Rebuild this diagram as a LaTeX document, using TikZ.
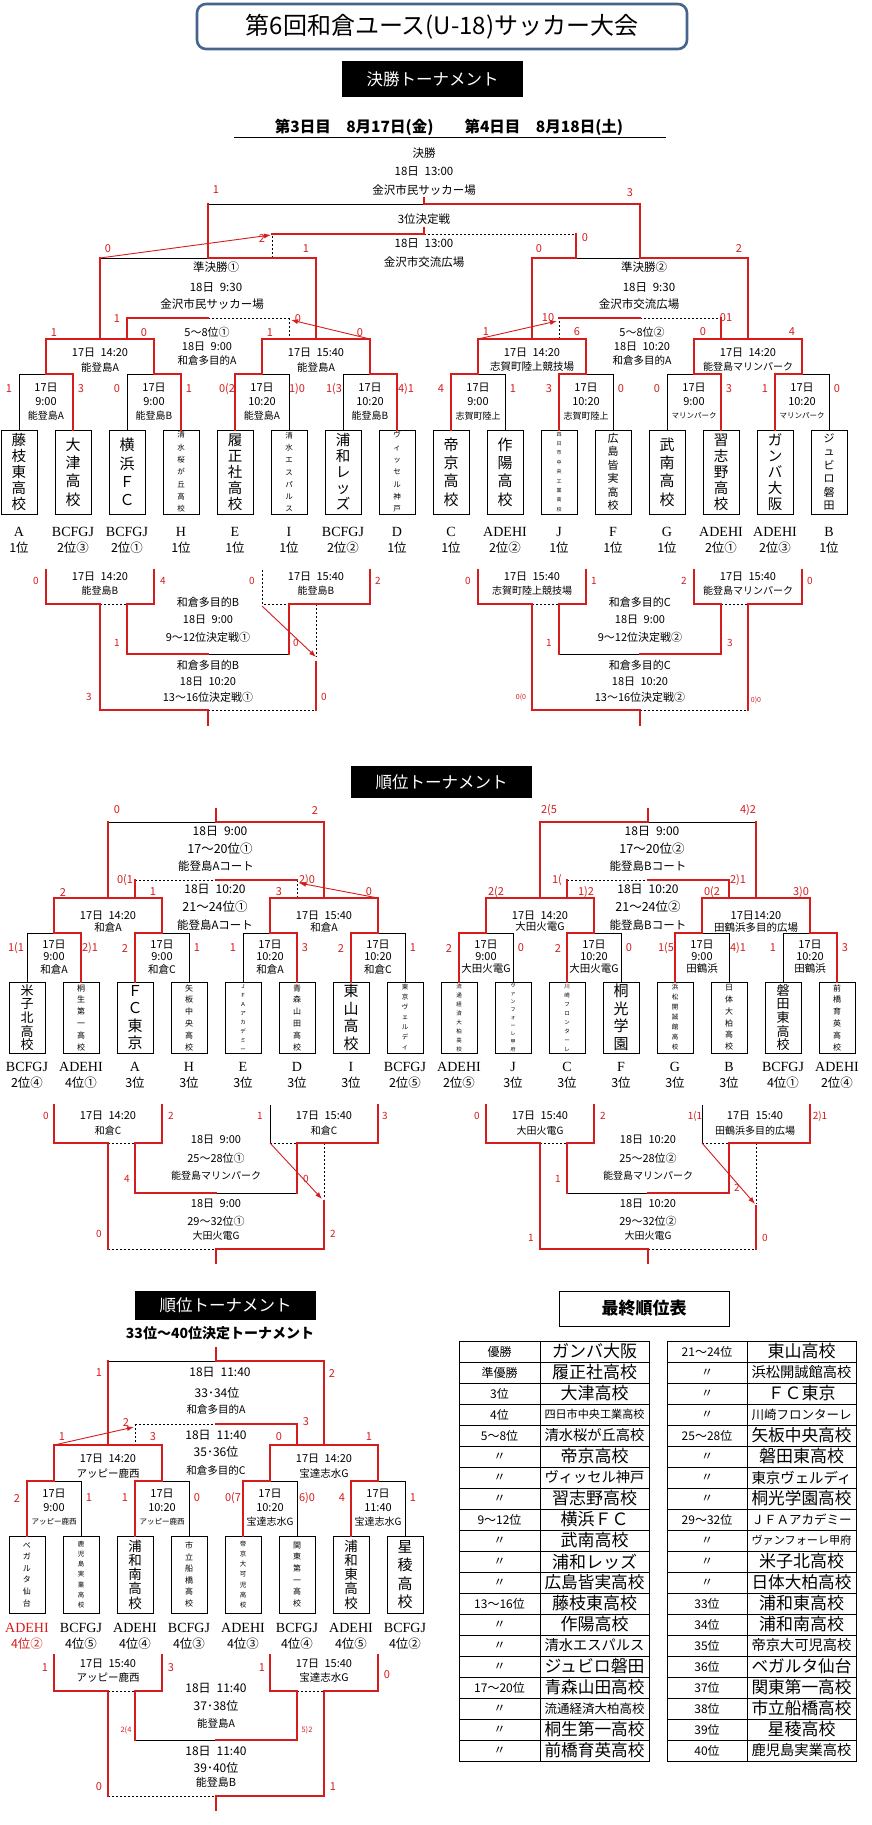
\documentclass[tikz,border=0pt]{standalone}
\usepackage{fontspec}
\usepackage{graphicx}
\setmainfont{Noto Sans CJK JP}
\newfontfamily\lat{Liberation Serif}
\usetikzlibrary{arrows.meta}
\definecolor{rd}{RGB}{214,28,28}
\definecolor{tb}{RGB}{70,100,142}
\makeatletter
\def\vt#1{\vt@a#1\vt@end}
\def\vt@end{}
\def\vt@a#1#2{#1\ifx\vt@end#2\expandafter\@gobble\else\expandafter\@firstofone\fi{\\\vt@a#2}}
\makeatother
\newcommand\fs[1]{\fontsize{#1}{#1}\selectfont}
\newcounter{nn}
\newcommand\Tx[4][]{\stepcounter{nn}\node[tx,#1] (n\arabic{nn}) at (#2,#3) {#4};}
\newcommand\Sc[4][]{\stepcounter{nn}\node[sc,#1] (n\arabic{nn}) at (#2,#3) {#4};}
\newcommand\Tb[5]{\stepcounter{nn}\node[draw,line width=0.8pt,minimum width=36pt,minimum height=#3pt,inner sep=0pt,align=center,#4] (n\arabic{nn}) at (#1,#2) {\vt{#5}};}
\newcommand\Lb[5][black]{\Tx[font=\lat\fs{14},text=#1]{#2}{#3}{#4}\Tx[font=\fs{12.5},text=#1]{#2}{#3+16}{#5}}
\newcommand\cupL[4]{\draw[K] (#1+54,#3) -- (#1+54,#2) -- (#1+27,#2); \draw[W] (#1,#3) -- (#1,#2) -- (#1+27,#2) -- (#1+27,#4);}
\newcommand\cupR[4]{\draw[K] (#1,#3) -- (#1,#2) -- (#1+27,#2); \draw[W] (#1+54,#3) -- (#1+54,#2) -- (#1+27,#2) -- (#1+27,#4);}
\newcommand\cupT[6]{\Tx{#1}{#2}{17日}\Tx{#1}{#2+#3}{#4}\Tx[font=\fs{#6}]{#1}{#2+2*#3}{#5}}
\newcommand\fitn[1]{\sbox0{\fs{17}#1}\ifdim\wd0>100pt\resizebox{100pt}{!}{\fs{17}#1}\else\usebox0\fi}
\newcommand\Rw[5]{\Tx[font=\fs{12}]{499.5}{1351.5+21*#1}{#2}\Tx{594.5}{1351.5+21*#1}{\fitn{#3}}\Tx[font=\fs{12}]{707}{1351.5+21*#1}{#4}\Tx{801.5}{1351.5+21*#1}{\fitn{#5}}}
\tikzset{
 W/.style={draw=rd,line width=2.3pt,line cap=rect,line join=miter},
 K/.style={draw=black,line width=0.8pt},
 D/.style={draw=black,line width=0.8pt,dash pattern=on 2pt off 2pt},
 AR/.style={draw=rd,line width=0.9pt,-{Latex[length=7pt,width=5pt]}},
 tx/.style={inner sep=0pt,font=\fs{11}},
 sc/.style={inner sep=0pt,text=rd,font=\fs{11}},
 s1L5/.style={font=\fontsize{14.5}{16}\selectfont},
 s1L4/.style={font=\fontsize{15}{18.3}\selectfont},
 s1M6/.style={font=\fontsize{11}{13.5}\selectfont},
 s1T7/.style={font=\fontsize{7.5}{12.3}\selectfont},
 s1TT/.style={font=\fontsize{5}{9.4}\selectfont},
 s2L5/.style={font=\fontsize{13}{13.7}\selectfont},
 s2L4/.style={font=\fontsize{15}{17.5}\selectfont},
 s2M6/.style={font=\fontsize{8}{11.8}\selectfont},
 s2T7/.style={font=\fontsize{6.5}{10}\selectfont},
 s2T8/.style={font=\fontsize{5.5}{9}\selectfont},
 s2T9/.style={font=\fontsize{5}{7.9}\selectfont},
 s3L5/.style={font=\fontsize{13.5}{14.3}\selectfont},
 s3L4/.style={font=\fontsize{15}{18.3}\selectfont},
 s3M6/.style={font=\fontsize{8}{11.6}\selectfont},
 s3T7/.style={font=\fontsize{6.5}{10.2}\selectfont},
 blk/.style={fill=black,text=white,minimum width=181pt,inner sep=0pt,font=\fs{16.5}},
}
\begin{document}
\begin{tikzpicture}[x=1pt,y=-1pt]
\useasboundingbox (0,0) rectangle (872,1825);
\fill[white] (0,0) rectangle (872,1825);
% ---------- header ----------
\node[draw=tb,line width=2.6pt,rounded corners=9pt,minimum width=490pt,minimum height=45pt,inner sep=0pt,font=\fs{24}] (title) at (442,26.5) {第6回和倉ユース(U-18)サッカー大会};
\node[blk,minimum height=36pt] (hdr1) at (432.5,79) {決勝トーナメント};
\node[inner sep=0pt,font=\bfseries\fs{15.5}] (days) at (449,127) {第3日目\quad 8月17日(金)\qquad 第4日目\quad 8月18日(土)};
\draw[line width=1pt] (234,138) -- (666,138);
% ---------- section 1 upper ----------
\Tb{19}{472}{84}{s1L5}{藤枝東高校}
\Tb{73}{472}{84}{s1L4}{大津高校}
\Tb{127}{472}{84}{s1L4}{横浜ＦＣ}
\Tb{181}{472}{84}{s1T7}{清水桜が丘高校}
\Tb{235}{472}{84}{s1L5}{履正社高校}
\Tb{289}{472}{84}{s1T7}{清水エスパルス}
\Tb{343}{472}{84}{s1L5}{浦和レッズ}
\Tb{397}{472}{84}{s1T7}{ヴィッセル神戸}
\Tb{451}{472}{84}{s1L4}{帝京高校}
\Tb{505}{472}{84}{s1L4}{作陽高校}
\Tb{559}{472}{84}{s1TT}{四日市中央工業高校}
\Tb{613}{472}{84}{s1M6}{広島皆実高校}
\Tb{667}{472}{84}{s1L4}{武南高校}
\Tb{721}{472}{84}{s1L5}{習志野高校}
\Tb{775}{472}{84}{s1L5}{ガンバ大阪}
\Tb{829}{472}{84}{s1M6}{ジュビロ磐田}
\Lb{19}{532}{A}{1位}\Lb{73}{532}{BCFGJ}{2位③}\Lb{127}{532}{BCFGJ}{2位①}\Lb{181}{532}{H}{1位}
\Lb{235}{532}{E}{1位}\Lb{289}{532}{I}{1位}\Lb{343}{532}{BCFGJ}{2位②}\Lb{397}{532}{D}{1位}
\Lb{451}{532}{C}{1位}\Lb{505}{532}{ADEHI}{2位②}\Lb{559}{532}{J}{1位}\Lb{613}{532}{F}{1位}
\Lb{667}{532}{G}{1位}\Lb{721}{532}{ADEHI}{2位①}\Lb{775}{532}{ADEHI}{2位③}\Lb{829}{532}{B}{1位}
\cupR{19}{374}{430}{339}\cupR{127}{374}{430}{339}\cupL{235}{374}{430}{339}\cupR{343}{374}{430}{339}
\cupL{451}{374}{430}{339}\cupL{559}{374}{430}{339}\cupR{667}{374}{430}{339}\cupL{775}{374}{430}{339}
\cupT{46}{388}{14}{9:00}{能登島A}{10}\cupT{154}{388}{14}{9:00}{能登島B}{10}
\cupT{262}{388}{14}{10:20}{能登島A}{10}\cupT{370}{388}{14}{10:20}{能登島B}{10}
\cupT{478}{388}{14}{9:00}{志賀町陸上}{9}\cupT{586}{388}{14}{10:20}{志賀町陸上}{9}
\cupT{694}{388}{14}{9:00}{マリンパーク}{7.5}\cupT{802}{388}{14}{10:20}{マリンパーク}{7.5}
\Sc{9}{389}{1}\Sc{81}{389}{3}\Sc{117}{389}{0}\Sc{189}{389}{1}\Sc{227}{389}{0(2}\Sc{297}{389}{1)0}
\Sc{334}{389}{1(3}\Sc{406}{389}{4)1}\Sc{441}{389}{4}\Sc{513}{389}{1}\Sc{549}{389}{3}\Sc{621}{389}{0}
\Sc{657}{389}{0}\Sc{729}{389}{3}\Sc{765}{389}{1}\Sc{837}{389}{0}
% quarterfinals
\draw[D] (289,318) -- (289,339); \draw[D] (208,318) -- (289,318);
\draw[D] (559,339) -- (559,318); \draw[D] (640,318) -- (721,318);
\draw[W] (46,339) -- (154,339); \draw[W] (262,339) -- (370,339);
\draw[W] (478,339) -- (586,339); \draw[W] (694,339) -- (802,339);
\draw[W] (127,339) -- (127,318) -- (208,318);
\draw[W] (559,318) -- (640,318); \draw[W] (721,318) -- (721,339);
\Sc{54}{333}{1}\Sc{144}{333}{0}\Sc{270}{333}{1}\Sc{360}{333}{0}
\Sc{486}{332}{1}\Sc{577}{332}{6}\Sc{703}{332}{0}\Sc{792}{332}{4}
\Sc{117}{319}{1}\Sc{298}{319}{0}\Sc{548}{318}{10}\Sc{726}{318}{01}
\Tx{100}{353}{17日\enspace14:20}\Tx[font=\fs{10.5}]{100}{367}{能登島A}
\Tx{316}{353}{17日\enspace15:40}\Tx[font=\fs{10.5}]{316}{367}{能登島A}
\Tx{532}{353}{17日\enspace14:20}\Tx[font=\fs{10.5}]{532}{367}{志賀町陸上競技場}
\Tx{748}{353}{17日\enspace14:20}\Tx[font=\fs{10}]{748}{367}{能登島マリンパーク}
\Tx{207}{332}{5～8位①}\Tx{207}{347}{18日\enspace9:00}\Tx[font=\fs{10.5}]{207}{360}{和倉多目的A}
\Tx{642}{332}{5～8位②}\Tx{642}{347}{18日\enspace10:20}\Tx[font=\fs{10.5}]{642}{360}{和倉多目的A}
% semifinals / final
\draw[K] (100,258) -- (208,258); \draw[K] (576,258) -- (640,258);
\draw[D] (272,258) -- (272,234); \draw[D] (424,234) -- (576,234);
\draw[K] (208,204) -- (424,204);
\draw[W] (100,339) -- (100,258); \draw[W] (316,339) -- (316,258);
\draw[W] (532,339) -- (532,258); \draw[W] (748,339) -- (748,258);
\draw[W] (316,258) -- (208,258) -- (208,204);
\draw[W] (532,258) -- (576,258) -- (576,234);
\draw[W] (748,258) -- (640,258) -- (640,204) -- (424,204);
\draw[W] (424,204) -- (424,198);
\draw[W] (272,234) -- (424,234) -- (424,228);
\draw[AR] (100,258) -- (271,235);
\draw[AR] (370,339) -- (291,320);
\draw[AR] (478,339) -- (557,321);
\Sc{108}{249}{0}\Sc{306}{249}{1}\Sc{539}{249}{0}\Sc{739}{249}{2}
\Sc{216}{190}{1}\Sc{630}{193}{3}\Sc{262}{239}{2}\Sc{585}{238}{0}
\Tx[font=\fs{11.5}]{424}{153}{決勝}\Tx[font=\fs{11.5}]{424}{171}{18日\enspace13:00}\Tx[font=\fs{11.5}]{424}{190}{金沢市民サッカー場}
\Tx[font=\fs{11.5}]{424}{219}{3位決定戦}\Tx[font=\fs{11.5}]{424}{243}{18日\enspace13:00}\Tx[font=\fs{11.5}]{424}{262}{金沢市交流広場}
\Tx[font=\fs{11.5}]{216}{267}{準決勝①}\Tx[font=\fs{11.5}]{216}{287}{18日\enspace9:30}\Tx[font=\fs{11.5}]{212}{304}{金沢市民サッカー場}
\Tx[font=\fs{11.5}]{644}{267}{準決勝②}\Tx[font=\fs{11.5}]{649}{287}{18日\enspace9:30}\Tx[font=\fs{11.5}]{639}{304}{金沢市交流広場}
% ---------- section 1 lower ----------
\draw[D] (100,604) -- (127,604); \draw[D] (262,570) -- (262,604) -- (289,604);
\draw[D] (316,604) -- (316,657); \draw[K] (208,654) -- (289,654); \draw[D] (208,710) -- (316,710);
\draw[D] (532,604) -- (559,604); \draw[D] (721,604) -- (748,604);
\draw[K] (559,654) -- (640,654); \draw[D] (640,710) -- (748,710);
\draw[W] (46,570) -- (46,604) -- (100,604) -- (100,710) -- (208,710);
\draw[W] (154,570) -- (154,604) -- (127,604) -- (127,654) -- (208,654);
\draw[W] (370,570) -- (370,604) -- (289,604) -- (289,654);
\draw[W] (316,662) -- (316,710); \draw[W] (208,710) -- (208,725);
\draw[W] (478,570) -- (478,604) -- (532,604) -- (532,710) -- (640,710);
\draw[W] (586,570) -- (586,604) -- (559,604) -- (559,654);
\draw[W] (694,570) -- (694,604) -- (721,604) -- (721,654) -- (640,654);
\draw[W] (802,570) -- (802,604) -- (748,604) -- (748,710);
\draw[W] (640,710) -- (640,725);
\draw[AR] (262,606) -- (316,657);
\Sc[font=\fs{10}]{36}{581}{0}\Sc[font=\fs{10}]{163}{581}{4}\Sc[font=\fs{10}]{252}{581}{0}\Sc[font=\fs{10}]{378}{581}{2}
\Sc[font=\fs{10}]{468}{581}{0}\Sc[font=\fs{10}]{594}{581}{1}\Sc[font=\fs{10}]{684}{581}{2}\Sc[font=\fs{10}]{810}{581}{0}
\Sc[font=\fs{10}]{117}{643}{1}\Sc[font=\fs{10}]{296}{643}{0}\Sc[font=\fs{10}]{549}{643}{1}\Sc[font=\fs{10}]{730}{643}{3}
\Sc[font=\fs{10}]{89}{697}{3}\Sc[font=\fs{10}]{324}{697}{0}\Sc[font=\fs{7}]{521}{697}{0(0}\Sc[font=\fs{7}]{756}{700}{0)0}
\Tx{100}{577}{17日\enspace14:20}\Tx[font=\fs{10}]{100}{591}{能登島B}
\Tx{316}{577}{17日\enspace15:40}\Tx[font=\fs{10}]{316}{591}{能登島B}
\Tx{532}{577}{17日\enspace15:40}\Tx[font=\fs{10}]{532}{591}{志賀町陸上競技場}
\Tx{748}{577}{17日\enspace15:40}\Tx[font=\fs{10}]{748}{591}{能登島マリンパーク}
\Tx{208}{602}{和倉多目的B}\Tx{208}{620}{18日\enspace9:00}\Tx{208}{637}{9～12位決定戦①}
\Tx{208}{665}{和倉多目的B}\Tx{208}{682}{18日\enspace10:20}\Tx{208}{697}{13～16位決定戦①}
\Tx{640}{602}{和倉多目的C}\Tx{640}{620}{18日\enspace9:00}\Tx{640}{637}{9～12位決定戦②}
\Tx{640}{665}{和倉多目的C}\Tx{640}{682}{18日\enspace10:20}\Tx{640}{697}{13～16位決定戦②}
% ---------- section 2 ----------
\node[blk,minimum height=32pt] (hdr2) at (441.5,782) {順位トーナメント};
\Tb{27}{1017.5}{71}{s2L5}{米子北高校}
\Tb{81}{1017.5}{71}{s2M6}{桐生第一高校}
\Tb{135}{1017.5}{71}{s2L4}{ＦＣ東京}
\Tb{189}{1017.5}{71}{s2M6}{矢板中央高校}
\Tb{243}{1017.5}{71}{s2T8}{ＪＦＡアカデミー}
\Tb{297}{1017.5}{71}{s2M6}{青森山田高校}
\Tb{351}{1017.5}{71}{s2L4}{東山高校}
\Tb{405}{1017.5}{71}{s2T7}{東京ヴェルディ}
\Tb{459}{1017.5}{71}{s2T8}{流通経済大柏高校}
\Tb{513}{1017.5}{71}{s2T9}{ヴァンフォーレ甲府}
\Tb{567}{1017.5}{71}{s2T8}{川崎フロンターレ}
\Tb{621}{1017.5}{71}{s2L4}{桐光学園}
\Tb{675}{1017.5}{71}{s2T7}{浜松開誠館高校}
\Tb{729}{1017.5}{71}{s2M6}{日体大柏高校}
\Tb{783}{1017.5}{71}{s2L5}{磐田東高校}
\Tb{837}{1017.5}{71}{s2M6}{前橋育英高校}
\Lb{27}{1067}{BCFGJ}{2位④}\Lb{81}{1067}{ADEHI}{4位①}\Lb{135}{1067}{A}{3位}\Lb{189}{1067}{H}{3位}
\Lb{243}{1067}{E}{3位}\Lb{297}{1067}{D}{3位}\Lb{351}{1067}{I}{3位}\Lb{405}{1067}{BCFGJ}{2位⑤}
\Lb{459}{1067}{ADEHI}{2位⑤}\Lb{513}{1067}{J}{3位}\Lb{567}{1067}{C}{3位}\Lb{621}{1067}{F}{3位}
\Lb{675}{1067}{G}{3位}\Lb{729}{1067}{B}{3位}\Lb{783}{1067}{BCFGJ}{4位①}\Lb{837}{1067}{ADEHI}{2位④}
\cupR{27}{933}{982}{898}\cupL{135}{933}{982}{898}\cupR{243}{933}{982}{898}\cupL{351}{933}{982}{898}
\cupL{459}{933}{982}{898}\cupL{567}{933}{982}{898}\cupL{675}{933}{982}{898}\cupR{783}{933}{982}{898}
\cupT{54}{945}{12}{9:00}{和倉A}{10.5}\cupT{162}{945}{12}{9:00}{和倉C}{10.5}
\cupT{270}{945}{12}{10:20}{和倉A}{10.5}\cupT{378}{945}{12}{10:20}{和倉C}{10.5}
\cupT{486}{945}{12}{9:00}{大田火電G}{10.5}\cupT{594}{945}{12}{10:20}{大田火電G}{10.5}
\cupT{702}{945}{12}{9:00}{田鶴浜}{10.5}\cupT{810}{945}{12}{10:20}{田鶴浜}{10.5}
\Sc{16}{948}{1(1}\Sc{90}{948}{2)1}\Sc{125}{948}{2}\Sc{197}{948}{1}\Sc{233}{948}{1}\Sc{305}{948}{3}
\Sc{341}{948}{2}\Sc{413}{948}{1}\Sc{449}{948}{2}\Sc{521}{948}{0}\Sc{558}{948}{2}\Sc{629}{948}{0}
\Sc{666}{948}{1(5}\Sc{738}{948}{4)1}\Sc{773}{948}{1}\Sc{845}{948}{3}
\draw[K] (108,822) -- (216,822); \draw[K] (648,822) -- (756,822);
\draw[D] (135,880) -- (216,880); \draw[D] (297,880) -- (297,898); \draw[D] (567,880) -- (648,880);
\draw[W] (54,898) -- (162,898); \draw[W] (270,898) -- (378,898);
\draw[W] (486,898) -- (594,898); \draw[W] (702,898) -- (810,898);
\draw[W] (108,898) -- (108,822); \draw[W] (324,898) -- (324,822) -- (216,822) -- (216,809);
\draw[W] (756,898) -- (756,822); \draw[W] (540,898) -- (540,822) -- (648,822) -- (648,809);
\draw[W] (135,898) -- (135,880); \draw[W] (216,880) -- (297,880);
\draw[W] (567,898) -- (567,880); \draw[W] (648,880) -- (729,880) -- (729,898);
\draw[AR] (378,898) -- (299,883);
\Sc{63}{892}{2}\Sc{153}{892}{1}\Sc{279}{892}{3}\Sc{369}{892}{0}
\Sc{496}{892}{2(2}\Sc{586}{892}{1)2}\Sc{712}{892}{0(2}\Sc{801}{892}{3)0}
\Sc{117}{810}{0}\Sc{315}{810}{2}\Sc{549}{810}{2(5}\Sc{748}{810}{4)2}
\Sc{125}{880}{0(1}\Sc{307}{880}{2)0}\Sc{557}{880}{1(}\Sc{738}{880}{2)1}
\Tx[font=\fs{12}]{220}{831}{18日\enspace9:00}\Tx[font=\fs{12.5}]{220}{849}{17～20位①}\Tx[font=\fs{11.5}]{216}{866}{能登島Aコート}
\Tx[font=\fs{12}]{215}{889}{18日\enspace10:20}\Tx[font=\fs{12.5}]{215}{907}{21～24位①}\Tx[font=\fs{11.5}]{215}{925}{能登島Aコート}
\Tx[font=\fs{12}]{652}{831}{18日\enspace9:00}\Tx[font=\fs{12.5}]{652}{849}{17～20位②}\Tx[font=\fs{11.5}]{648}{866}{能登島Bコート}
\Tx[font=\fs{12}]{648}{889}{18日\enspace10:20}\Tx[font=\fs{12.5}]{648}{907}{21～24位②}\Tx[font=\fs{11.5}]{648}{925}{能登島Bコート}
\Tx{108}{916}{17日\enspace14:20}\Tx[font=\fs{10.5}]{108}{927}{和倉A}
\Tx{324}{916}{17日\enspace15:40}\Tx[font=\fs{10.5}]{324}{927}{和倉A}
\Tx{540}{916}{17日\enspace14:20}\Tx[font=\fs{10.5}]{540}{927}{大田火電G}
\Tx{756}{916}{17日14:20}\Tx[font=\fs{10.5}]{756}{927}{田鶴浜多目的広場}
% section 2 lower
\draw[D] (108,1143) -- (135,1143); \draw[K] (270,1105) -- (270,1143); \draw[D] (270,1143) -- (297,1143);
\draw[D] (324,1143) -- (324,1199); \draw[K] (216,1193) -- (297,1193); \draw[D] (108,1249) -- (216,1249);
\draw[D] (540,1143) -- (567,1143); \draw[K] (702,1105) -- (702,1143); \draw[D] (702,1143) -- (729,1143);
\draw[D] (756,1143) -- (756,1204); \draw[K] (567,1193) -- (648,1193); \draw[D] (648,1249) -- (756,1249);
\draw[W] (54,1105) -- (54,1143) -- (108,1143) -- (108,1249);
\draw[W] (162,1105) -- (162,1143) -- (135,1143) -- (135,1193) -- (216,1193);
\draw[W] (378,1105) -- (378,1143) -- (297,1143) -- (297,1193);
\draw[W] (324,1201) -- (324,1249) -- (216,1249) -- (216,1263);
\draw[W] (486,1105) -- (486,1143) -- (540,1143) -- (540,1249) -- (648,1249) -- (648,1263);
\draw[W] (594,1105) -- (594,1143) -- (567,1143) -- (567,1193);
\draw[W] (810,1105) -- (810,1143) -- (729,1143) -- (729,1193) -- (648,1193);
\draw[W] (756,1206) -- (756,1249);
\draw[AR] (270,1143) -- (322,1199);
\draw[AR] (702,1143) -- (755,1204);
\Sc[font=\fs{10}]{46}{1116}{0}\Sc[font=\fs{10}]{171}{1116}{2}\Sc[font=\fs{10}]{260}{1116}{1}\Sc[font=\fs{10}]{385}{1116}{3}
\Sc[font=\fs{10}]{477}{1116}{0}\Sc[font=\fs{10}]{603}{1116}{2}\Sc[font=\fs{10}]{695}{1116}{1(1}\Sc[font=\fs{10}]{820}{1116}{2)1}
\Sc[font=\fs{10}]{127}{1179}{4}\Sc[font=\fs{10}]{306}{1179}{0}\Sc[font=\fs{10}]{558}{1179}{1}\Sc[font=\fs{10}]{737}{1188}{2}
\Sc[font=\fs{10}]{99}{1234}{0}\Sc[font=\fs{10}]{333}{1234}{2}\Sc[font=\fs{10}]{531}{1238}{1}\Sc[font=\fs{10}]{765}{1238}{0}
\Tx{108}{1116}{17日\enspace14:20}\Tx[font=\fs{10}]{108}{1131}{和倉C}
\Tx{324}{1116}{17日\enspace15:40}\Tx[font=\fs{10}]{324}{1131}{和倉C}
\Tx{540}{1116}{17日\enspace15:40}\Tx[font=\fs{10}]{540}{1131}{大田火電G}
\Tx{755}{1116}{17日\enspace15:40}\Tx[font=\fs{10}]{755}{1131}{田鶴浜多目的広場}
\Tx{216}{1140}{18日\enspace9:00}\Tx{216}{1158}{25～28位①}\Tx[font=\fs{10}]{216}{1176}{能登島マリンパーク}
\Tx{216}{1204}{18日\enspace9:00}\Tx{216}{1221}{29～32位①}\Tx[font=\fs{10}]{216}{1236}{大田火電G}
\Tx{648}{1140}{18日\enspace10:20}\Tx{648}{1158}{25～28位②}\Tx[font=\fs{10}]{648}{1176}{能登島マリンパーク}
\Tx{648}{1204}{18日\enspace10:20}\Tx{648}{1221}{29～32位②}\Tx[font=\fs{10}]{648}{1236}{大田火電G}
% ---------- section 3 ----------
\node[blk,minimum height=29pt] (hdr3) at (225.5,1305.5) {順位トーナメント};
\node[draw,line width=0.9pt,minimum width=170pt,minimum height=35pt,inner sep=0pt,font=\bfseries\fs{17}] (hdr4) at (644,1308.5) {最終順位表};
\Tx[font=\bfseries\fs{14}]{220}{1333}{33位～40位決定トーナメント}
\Tb{27}{1574.5}{77}{s3M6}{ベガルタ仙台}
\Tb{81}{1574.5}{77}{s3T7}{鹿児島実業高校}
\Tb{135}{1574.5}{77}{s3L5}{浦和南高校}
\Tb{189}{1574.5}{77}{s3M6}{市立船橋高校}
\Tb{243}{1574.5}{77}{s3T7}{帝京大可児高校}
\Tb{297}{1574.5}{77}{s3M6}{関東第一高校}
\Tb{351}{1574.5}{77}{s3L5}{浦和東高校}
\Tb{405}{1574.5}{77}{s3L4}{星稜高校}
\Lb[rd]{27}{1628}{ADEHI}{4位②}\Lb{81}{1628}{BCFGJ}{4位⑤}\Lb{135}{1628}{ADEHI}{4位④}\Lb{189}{1628}{BCFGJ}{4位③}
\Lb{243}{1628}{ADEHI}{4位③}\Lb{297}{1628}{BCFGJ}{4位④}\Lb{351}{1628}{ADEHI}{4位⑤}\Lb{405}{1628}{BCFGJ}{4位②}
\cupL{27}{1481}{1536}{1445}\cupL{135}{1481}{1536}{1445}\cupL{243}{1481}{1536}{1445}\cupL{351}{1481}{1536}{1445}
\cupT{54}{1494}{14}{9:00}{アッピー鹿西}{7.5}\cupT{162}{1494}{14}{10:20}{アッピー鹿西}{7.5}
\cupT{270}{1494}{14}{10:20}{宝達志水G}{10}\cupT{378}{1494}{14}{11:40}{宝達志水G}{10}
\Sc{17}{1498}{2}\Sc{89}{1498}{1}\Sc{125}{1498}{1}\Sc{197}{1498}{0}\Sc{233}{1498}{0(7}\Sc{307}{1498}{6)0}
\Sc{342}{1498}{4}\Sc{413}{1498}{1}
\draw[K] (108,1361) -- (216,1361); \draw[D] (135,1424) -- (216,1424); \draw[D] (135,1424) -- (135,1445);
\draw[W] (54,1445) -- (162,1445); \draw[W] (270,1445) -- (378,1445);
\draw[W] (108,1445) -- (108,1361); \draw[W] (324,1445) -- (324,1361) -- (216,1361) -- (216,1348);
\draw[W] (297,1445) -- (297,1424) -- (216,1424);
\draw[AR] (54,1445) -- (134,1427);
\Sc{62}{1437}{1}\Sc{153}{1437}{3}\Sc{279}{1437}{0}\Sc{369}{1437}{1}
\Sc{99}{1373}{1}\Sc{332}{1373}{2}\Sc{126}{1422}{2}\Sc{306}{1422}{3}
\Tx[font=\fs{12}]{220}{1372}{18日\enspace11:40}\Tx[font=\fs{12}]{217}{1393}{33･34位}\Tx[font=\fs{10.5}]{216}{1409}{和倉多目的A}
\Tx[font=\fs{12}]{216}{1435}{18日\enspace11:40}\Tx[font=\fs{12}]{216}{1452}{35･36位}\Tx[font=\fs{10.5}]{216}{1470}{和倉多目的C}
\Tx{108}{1459}{17日\enspace14:20}\Tx[font=\fs{10.5}]{108}{1473}{アッピー鹿西}
\Tx{324}{1459}{17日\enspace14:20}\Tx[font=\fs{10.5}]{324}{1473}{宝達志水G}
% section 3 lower
\draw[D] (108,1691) -- (135,1691); \draw[D] (297,1691) -- (324,1691);
\draw[K] (135,1740) -- (216,1740); \draw[D] (108,1796) -- (216,1796);
\draw[W] (54,1655) -- (54,1691) -- (108,1691) -- (108,1796);
\draw[W] (162,1655) -- (162,1691) -- (135,1691) -- (135,1740);
\draw[W] (270,1655) -- (270,1691) -- (297,1691) -- (297,1740) -- (216,1740);
\draw[W] (378,1655) -- (378,1691) -- (324,1691) -- (324,1796) -- (216,1796) -- (216,1810);
\Sc{45}{1668}{1}\Sc{171}{1668}{3}\Sc{262}{1668}{1}\Sc{387}{1675}{0}
\Sc[font=\fs{7.5}]{126}{1730}{2(4}\Sc[font=\fs{7.5}]{307}{1730}{5)2}\Sc{99}{1787}{0}\Sc{333}{1787}{1}
\Tx{108}{1664}{17日\enspace15:40}\Tx[font=\fs{10.5}]{108}{1677}{アッピー鹿西}
\Tx{324}{1664}{17日\enspace15:40}\Tx[font=\fs{10.5}]{324}{1677}{宝達志水G}
\Tx[font=\fs{12}]{216}{1688}{18日\enspace11:40}\Tx[font=\fs{12}]{216}{1706}{37･38位}\Tx[font=\fs{10.5}]{216}{1723}{能登島A}
\Tx[font=\fs{12}]{216}{1751}{18日\enspace11:40}\Tx[font=\fs{12}]{216}{1768}{39･40位}\Tx[font=\fs{11}]{216}{1782}{能登島B}
% ---------- ranking table ----------
\draw[line width=0.9pt] (459,1341) rectangle (649,1761) (540,1341) -- (540,1761);
\draw[line width=0.9pt] (667,1341) rectangle (856,1761) (747,1341) -- (747,1761);
\foreach \i in {1,...,19}{\draw[line width=0.9pt] (459,1341+21*\i) -- (649,1341+21*\i) (667,1341+21*\i) -- (856,1341+21*\i);}
\Rw{0}{優勝}{ガンバ大阪}{21～24位}{東山高校}
\Rw{1}{準優勝}{履正社高校}{〃}{浜松開誠館高校}
\Rw{2}{3位}{大津高校}{〃}{ＦＣ東京}
\Rw{3}{4位}{四日市中央工業高校}{〃}{川崎フロンターレ}
\Rw{4}{5～8位}{清水桜が丘高校}{25～28位}{矢板中央高校}
\Rw{5}{〃}{帝京高校}{〃}{磐田東高校}
\Rw{6}{〃}{ヴィッセル神戸}{〃}{東京ヴェルディ}
\Rw{7}{〃}{習志野高校}{〃}{桐光学園高校}
\Rw{8}{9～12位}{横浜ＦＣ}{29～32位}{ＪＦＡアカデミー}
\Rw{9}{〃}{武南高校}{〃}{ヴァンフォーレ甲府}
\Rw{10}{〃}{浦和レッズ}{〃}{米子北高校}
\Rw{11}{〃}{広島皆実高校}{〃}{日体大柏高校}
\Rw{12}{13～16位}{藤枝東高校}{33位}{浦和東高校}
\Rw{13}{〃}{作陽高校}{34位}{浦和南高校}
\Rw{14}{〃}{清水エスパルス}{35位}{帝京大可児高校}
\Rw{15}{〃}{ジュビロ磐田}{36位}{ベガルタ仙台}
\Rw{16}{17～20位}{青森山田高校}{37位}{関東第一高校}
\Rw{17}{〃}{流通経済大柏高校}{38位}{市立船橋高校}
\Rw{18}{〃}{桐生第一高校}{39位}{星稜高校}
\Rw{19}{〃}{前橋育英高校}{40位}{鹿児島実業高校}
\end{tikzpicture}
\end{document}
